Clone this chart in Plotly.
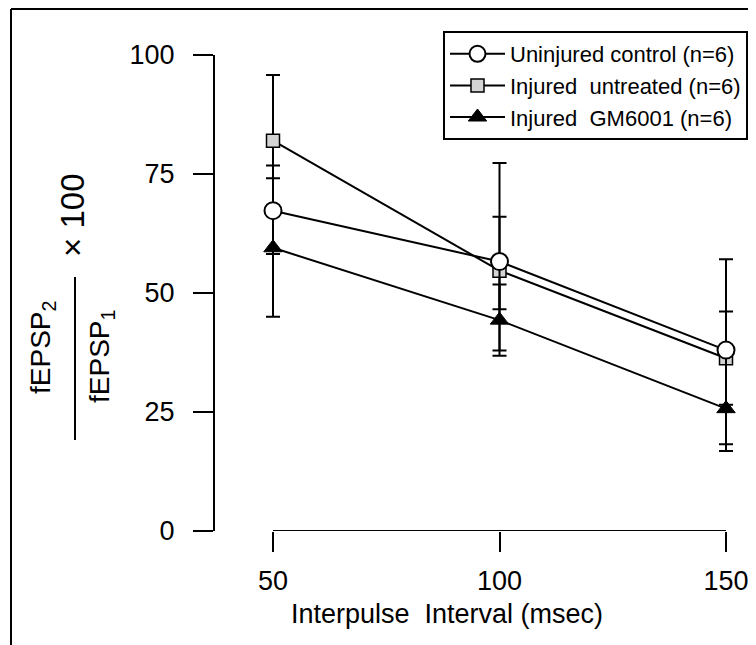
import plotly.graph_objects as go

# ---- data ----
intervals = [50, 100, 150]

ctrl_mean = [67.3, 56.6, 38.0]
ctrl_up = [9.5, 20.7, 19.1]
ctrl_dn = [9.1, 19.8, 19.8]

untr_mean = [82.0, 54.7, 36.3]
untr_up = [13.8, 11.3, 9.8]
untr_dn = [13.8, 8.1, 9.8]

gm_mean = [59.5, 44.3, 25.7]
gm_up = [14.6, 7.5, 11.8]
gm_dn = [14.5, 6.4, 8.9]

y_ticks = [0, 25, 50, 75, 100]
x_ticks = [50, 100, 150]

names = ["Uninjured control (n=6)", "Injured  untreated (n=6)", "Injured  GM6001 (n=6)"]

# ---- layout geometry (screen pixels; page body adds an 8px offset) ----
W, H = 756, 645
OFF = 8
L, R, T, B = 215, 748, 55, 531
FONT = "Liberation Sans, Arial, sans-serif"


def px_x(p):
    return (p - L) / (R - L)


def px_y(p):
    return (B - p) / (B - T)


def err(up, dn):
    return dict(type="data", symmetric=False, array=up, arrayminus=dn,
                color="black", thickness=2, width=7)


def label(text, x, y, size, angle=0):
    fig.add_annotation(xref="paper", yref="paper", x=px_x(x), y=px_y(y),
                       xanchor="center", yanchor="middle",
                       text=text, textangle=angle, showarrow=False,
                       font=dict(family=FONT, size=size, color="black"))


def paper_line(x0, y0, x1, y1):
    fig.add_shape(type="line", xref="paper", yref="paper",
                  x0=px_x(x0), x1=px_x(x1), y0=px_y(y0), y1=px_y(y1),
                  line=dict(color="black", width=2), layer="below")


fig = go.Figure()

# draw order: square, triangle, circle (legend order via legendrank)
fig.add_trace(go.Scatter(
    x=intervals, y=untr_mean, name=names[1], mode="lines+markers",
    line=dict(color="black", width=2),
    marker=dict(symbol="square", size=13, color="#d4d4d4",
                line=dict(color="black", width=1.5)),
    error_y=err(untr_up, untr_dn), legendrank=2))

fig.add_trace(go.Scatter(
    x=intervals, y=gm_mean, name=names[2], mode="lines+markers",
    line=dict(color="black", width=2),
    marker=dict(symbol="triangle-up", size=16, color="black",
                line=dict(color="black", width=1)),
    error_y=err(gm_up, gm_dn), legendrank=3))

fig.add_trace(go.Scatter(
    x=intervals, y=ctrl_mean, name=names[0], mode="lines+markers",
    line=dict(color="black", width=2),
    marker=dict(symbol="circle", size=17, color="white",
                line=dict(color="black", width=2)),
    error_y=err(ctrl_up, ctrl_dn), legendrank=1))

# x axis line spanning only the tick range
fig.add_shape(type="line", xref="x", yref="y", x0=x_ticks[0], x1=x_ticks[-1],
              y0=0, y1=0, line=dict(color="black", width=2), layer="below")

# outer frame (top and left edges only)
paper_line(11, 9, 748, 9)
paper_line(11, 9, 11, 670)

# y-axis label as a fraction
label("fEPSP<sub>2</sub>", 42, 348, 28, -90)
label("fEPSP<sub>1</sub>", 101, 357, 28, -90)
label("× 100", 72, 215, 33, -90)
paper_line(75, 277, 75, 440)

# x-axis title
label("Interpulse  Interval (msec)", 447, 614, 27)

fig.update_layout(
    width=W, height=H,
    margin=dict(l=L - OFF, r=W + OFF - R, t=T - OFF, b=H + OFF - B, pad=0),
    paper_bgcolor="white", plot_bgcolor="white",
    font=dict(family=FONT, size=26, color="black"),
    showlegend=True,
    legend=dict(x=px_x(748), y=px_y(31), xanchor="right", yanchor="top",
                bgcolor="white", bordercolor="black", borderwidth=2,
                font=dict(family=FONT, size=22, color="black"),
                itemwidth=55),
    xaxis=dict(range=[50 - (273 - L) / 4.53, 150 + (R - 726) / 4.53],
               tickvals=x_ticks, ticktext=[str(v) for v in x_ticks],
               ticks="outside", ticklen=20, tickwidth=2, tickcolor="black",
               showline=False, showgrid=False, zeroline=False,
               ticklabelstandoff=6,
               tickfont=dict(family=FONT, size=27)),
    yaxis=dict(range=[0, 100], tickvals=y_ticks,
               ticktext=[str(v) for v in y_ticks],
               ticks="outside", ticklen=20, tickwidth=2, tickcolor="black",
               showline=True, linecolor="black", linewidth=2,
               showgrid=False, zeroline=False, ticklabelstandoff=13,
               tickfont=dict(family=FONT, size=27)),
)

fig.write_html("out.html")
